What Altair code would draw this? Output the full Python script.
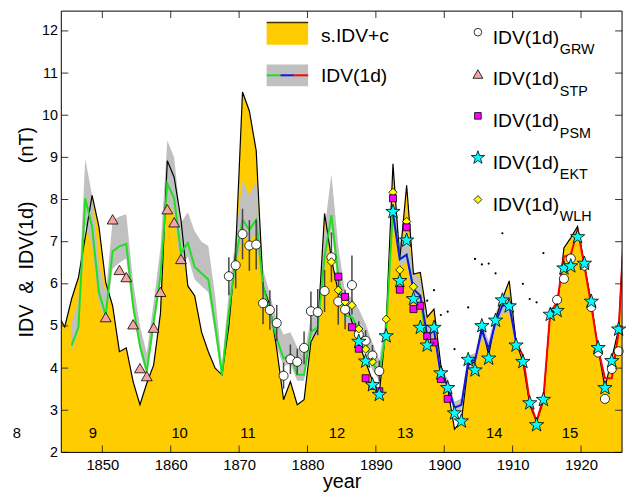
import altair as alt
import pandas as pd

FONT = "Liberation Sans"
W, H = 568, 447
X_DOM = [1844, 1926]
Y_DOM = [2, 12.47]

# ---------------- data ----------------
SIDV_START = 1843.5
SIDV = [5.26, 4.98, 5.64, 6.15, 7.10, 8.10, 7.36, 6.03, 5.48, 4.39,
        4.48, 3.68, 3.13, 3.64, 4.07, 5.30, 8.92, 8.53, 7.52, 5.95,
        5.72, 4.86, 4.39, 4.00, 3.84, 5.00, 6.80, 10.55, 10.10, 9.16,
        5.95, 5.48, 4.46, 3.25, 3.68, 3.13, 3.25, 4.62, 4.93, 7.67,
        6.60, 5.80, 5.60, 5.10, 4.60, 4.15, 3.70, 3.40, 5.01, 8.85,
        6.58, 8.34, 6.23, 6.27, 5.21, 5.40, 4.07, 3.53, 2.55, 2.74,
        4.07, 4.15, 5.01, 4.31, 5.17, 5.64, 6.07, 4.62, 4.15, 3.13,
        2.72, 3.21, 5.33, 5.40, 6.85, 7.09, 7.36, 6.46, 5.56, 4.46,
        3.53, 4.23, 4.93, 8.00]

GREEN_START = 1845.5
GREEN = [4.54, 4.97, 8.03, 7.36, 5.80, 5.25, 6.77, 6.89, 6.95, 5.48,
         4.54, 3.92, 5.09, 6.19, 8.38, 8.03, 6.73, 6.97, 6.40, 6.25,
         6.10, 5.00, 3.84, 5.33, 6.58, 7.52, 7.28, 7.52, 5.95, 5.33,
         4.70, 4.23, 4.31, 3.84, 3.84, 4.86, 4.97, 6.65, 7.63, 6.19,
         5.25, 5.21, 4.93, 4.62, 4.15, 3.84, 4.89, 7.75, 6.58, 6.69,
         5.87, 5.72, 4.46]

BLUE_START = 1892.5
BLUE = [7.67, 6.58, 6.69, 5.87, 5.72, 4.78, 4.89, 3.84, 3.60, 3.06,
        3.13, 4.15, 4.19, 4.89, 4.46, 5.09, 5.48, 5.50, 4.62]

RED_START = 1910.5
RED = [4.62, 4.30, 3.21, 2.74, 3.29, 5.33, 5.56, 6.65, 6.69, 7.28,
       6.42, 5.48, 4.46, 3.76, 3.76, 4.86, 8.00]

BAND_START = 1845.5
BAND_LO = [4.40, 4.85, 7.40, 6.90, 5.55, 5.10, 6.35, 6.50, 6.60, 5.30,
           4.40, 3.80, 4.90, 6.00, 7.95, 7.65, 6.35, 6.65, 6.10, 5.95,
           5.80, 4.80, 3.70, 5.10, 6.30, 7.20, 7.00, 7.20, 5.70, 5.10,
           4.50, 4.05, 4.10, 3.70, 3.70, 4.70, 4.80, 6.40, 7.30, 5.95,
           5.05, 5.00, 4.75, 4.45, 3.95, 3.70, 4.75, 7.50, 6.40, 6.50,
           5.65, 5.50, 4.60, 4.75, 3.70, 3.45, 2.92, 3.00, 4.00, 4.05,
           4.72, 4.30, 4.90, 5.28, 5.30, 4.45]
BAND_HI = [5.05, 5.60, 8.96, 8.10, 6.50, 5.75, 7.50, 7.60, 7.65, 6.05,
           5.00, 4.35, 5.55, 6.85, 9.40, 9.00, 7.45, 7.70, 7.25, 7.00,
           6.90, 5.70, 4.10, 5.80, 7.10, 8.45, 8.10, 8.45, 6.35, 5.75,
           5.15, 4.80, 4.85, 4.50, 4.30, 5.20, 5.40, 7.30, 8.60, 6.90,
           5.80, 5.65, 5.40, 5.05, 4.60, 4.20, 5.25, 8.10, 7.00, 7.25,
           6.30, 6.10, 5.00, 5.05, 4.00, 3.75, 3.20, 3.28, 4.30, 4.35,
           5.08, 4.65, 5.30, 5.72, 5.75, 4.80]

DOT_YEARS = [1897.5, 1898.5, 1899.5, 1900.5, 1901.5, 1903.5, 1904.5, 1905.5,
             1906.5, 1907.5, 1908.5, 1911.5, 1912.5, 1913.5, 1914.5]
DOT_VALUES = [5.60, 5.85, 5.26, 5.34, 4.45, 5.44, 6.59, 6.46,
              6.48, 6.25, 7.20, 6.00, 5.64, 5.56, 6.73]

GRW_YEARS = [1868.5, 1869.5, 1870.5, 1871.5, 1872.5, 1873.5, 1874.5, 1875.5,
             1876.5, 1877.5, 1878.5, 1879.5, 1880.5, 1881.5, 1882.5, 1883.5,
             1884.5, 1885.5, 1886.5, 1887.5, 1888.5, 1889.5, 1890.5,
             1916.5, 1917.5, 1918.5, 1920.5, 1921.5, 1922.5, 1923.5, 1924.5, 1925.5]
GRW_VALUES = [6.18, 6.44, 7.18, 6.91, 6.93, 5.54, 5.38, 5.07,
              3.82, 4.21, 4.15, 4.48, 5.35, 5.33, 5.83, 6.63,
              5.58, 5.39, 5.97, 4.80, 4.65, 4.30, 3.93,
              5.62, 6.12, 6.60, 6.43, 5.45, 4.37, 3.27, 3.98, 4.40]
GRW_ERR = [0.45, 0.55, 0.60, 0.60, 0.59, 0.50, 0.47, 0.43,
           0.31, 0.35, 0.31, 0.39, 0.47, 0.55, 0.50, 0.59,
           0.55, 0.47, 0.70, 0.31, 0.25, 0.25, 0.25,
           0, 0, 0, 0, 0, 0, 0, 0, 0]

STP_YEARS = [1850.5, 1851.5, 1852.5, 1853.5, 1854.5, 1855.5, 1856.5, 1857.5,
             1858.5, 1859.5, 1860.5, 1861.5]
STP_VALUES = [5.21, 7.53, 6.33, 6.16, 5.04, 4.00, 3.81, 4.96, 5.81, 7.77, 7.46, 6.59]

PSM_YEARS = [1884.5, 1885.5, 1886.5, 1887.5, 1888.5, 1889.5, 1890.5, 1892.5,
             1893.5, 1894.5, 1895.5, 1896.5, 1897.5, 1898.5, 1899.5, 1900.5]
PSM_VALUES = [6.17, 5.69, 4.97, 4.46, 3.76, 3.58, 3.45, 8.03,
              5.86, 7.34, 5.40, 5.48, 4.76, 4.61, 3.74, 3.27]

EKT_YEARS = [1887.5, 1888.5, 1889.5, 1890.5, 1891.5, 1892.5, 1893.5, 1894.5,
             1895.5, 1896.5, 1897.5, 1898.5, 1899.5, 1900.5, 1901.5, 1902.5,
             1903.5, 1904.5, 1905.5, 1906.5, 1907.5, 1908.5, 1909.5, 1910.5,
             1911.5, 1912.5, 1913.5, 1914.5, 1915.5, 1916.5, 1917.5, 1918.5,
             1919.5, 1920.5, 1921.5, 1922.5, 1923.5, 1924.5, 1925.5]
EKT_VALUES = [4.63, 4.16, 3.60, 3.37, 4.76, 7.71, 6.07, 7.03,
              5.64, 4.96, 4.54, 4.96, 3.88, 3.53, 2.93, 2.74,
              4.20, 3.95, 5.00, 4.23, 5.13, 5.61, 5.47, 4.54,
              4.15, 3.17, 2.65, 3.25, 5.27, 5.36, 6.37, 6.42,
              7.11, 6.48, 5.58, 4.48, 3.53, 4.17, 4.92]

WLH_YEARS = [1883.5, 1884.5, 1885.5, 1886.5, 1887.5, 1888.5, 1889.5, 1891.5,
             1892.5, 1893.5, 1894.5, 1895.5]
WLH_VALUES = [6.52, 5.85, 5.57, 5.49, 4.93, 4.45, 4.15, 5.16,
              8.17, 6.33, 7.48, 5.93]

CYCLE_LABELS = ["8", "9", "10", "11", "12", "13", "14", "15"]
CYCLE_YEARS = [1837.5, 1848.6, 1861.3, 1871.3, 1884.3, 1894.3, 1907.3, 1918.4]
CYCLE_LEVEL = 2.47

X_TICKS = [1850, 1860, 1870, 1880, 1890, 1900, 1910, 1920]
Y_TICKS = [2, 3, 4, 5, 6, 7, 8, 9, 10, 11, 12]

LEGEND_LEFT = ["s.IDV+c", "IDV(1d)"]
LEGEND_MAIN = "IDV(1d)"
LEGEND_SUBS = ["GRW", "STP", "PSM", "EKT", "WLH"]

Y_TITLE = "IDV\u00a0\u00a0&\u00a0\u00a0IDV(1d)" + "\u00a0" * 7 + "(nT)"

STAR = ("M0,-1L0.235,-0.324L0.951,-0.309L0.380,0.124L0.588,0.809L0,0.4"
        "L-0.588,0.809L-0.380,0.124L-0.951,-0.309L-0.235,-0.324Z")


def series(start, vals):
    return pd.DataFrame({"year": [start + i for i in range(len(vals))], "v": vals})


xs = alt.Scale(domain=X_DOM, nice=False, zero=False)
ys = alt.Scale(domain=Y_DOM, nice=False, zero=False)

AX_X = alt.Axis(values=X_TICKS, format="d", ticks=False, tickSize=0, domain=False,
                grid=False, labelFontSize=15, labelPadding=5, labelColor="black",
                labelFont=FONT, labelFlush=False, title="year", titleFontSize=20,
                titleFontWeight="normal", titleFont=FONT, titleColor="black",
                titlePadding=0)
AX_Y = alt.Axis(values=Y_TICKS, format="d", ticks=False, tickSize=0, domain=False,
                grid=False, labelFontSize=14.5, labelPadding=4, labelColor="black",
                labelFont=FONT, title=Y_TITLE, titleFontSize=20,
                titleFontWeight="normal", titleFont=FONT, titleColor="black",
                titlePadding=5)


def X(f="year"):
    return alt.X(f"{f}:Q", scale=xs, axis=AX_X, title="year")


def Y(f="v"):
    return alt.Y(f"{f}:Q", scale=ys, axis=AX_Y, title=Y_TITLE)


area = alt.Chart(series(SIDV_START, SIDV)).mark_area(color="#FFCC00", clip=True).encode(
    x=X(), y=Y(), y2=alt.datum(2))

band_df = pd.DataFrame({"year": [BAND_START + i for i in range(len(BAND_LO))],
                        "lo": BAND_LO, "hi": BAND_HI})
band = alt.Chart(band_df).mark_area(color="#C0C0C0", clip=True).encode(
    x=X(), y=Y("lo"), y2="hi:Q")

black = alt.Chart(series(SIDV_START, SIDV)).mark_line(color="black", strokeWidth=1.2, clip=True).encode(x=X(), y=Y())
green = alt.Chart(series(GREEN_START, GREEN)).mark_line(color="#22DD22", strokeWidth=2, clip=True).encode(x=X(), y=Y())
blue = alt.Chart(series(BLUE_START, BLUE)).mark_line(color="#1515E0", strokeWidth=2, clip=True).encode(x=X(), y=Y())
red = alt.Chart(series(RED_START, RED)).mark_line(color="#FF0000", strokeWidth=2, clip=True).encode(x=X(), y=Y())

dots = alt.Chart(pd.DataFrame({"year": DOT_YEARS, "v": DOT_VALUES})).mark_circle(
    color="black", size=5, opacity=1).encode(x=X(), y=Y())

grw_df = pd.DataFrame({"year": GRW_YEARS, "v": GRW_VALUES, "e": GRW_ERR})
grw_df["lo"] = grw_df["v"] - grw_df["e"]
grw_df["hi"] = grw_df["v"] + grw_df["e"]
errbars = alt.Chart(grw_df[grw_df["e"] > 0]).mark_rule(color="#444444", strokeWidth=1.5).encode(
    x=X(), y=Y("lo"), y2="hi:Q")


def markers(years, vals, shape, fill, size):
    return alt.Chart(pd.DataFrame({"year": years, "v": vals})).mark_point(
        shape=shape, filled=True, fill=fill, stroke="black", strokeWidth=0.8,
        size=size, opacity=1, fillOpacity=1).encode(x=X(), y=Y())


grw = markers(GRW_YEARS, GRW_VALUES, "circle", "white", 85)
wlh = markers(WLH_YEARS, WLH_VALUES, "diamond", "#FFFF00", 70)
psm = markers(PSM_YEARS, PSM_VALUES, "square", "#FF00FF", 50)
ekt = markers(EKT_YEARS, EKT_VALUES, STAR, "#00FFFF", 230)
stp = markers(STP_YEARS, STP_VALUES, "triangle-up", "#F4A4A4", 120)

# inward ticks
xt = pd.DataFrame({"t": X_TICKS})
yt = pd.DataFrame({"t": Y_TICKS})
tick_style = dict(color="#333333", strokeWidth=1)
ticks = [
    alt.Chart(xt).mark_rule(**tick_style).encode(x=X("t"), y=alt.value(H), y2=alt.value(H - 7)),
    alt.Chart(xt).mark_rule(**tick_style).encode(x=X("t"), y=alt.value(0), y2=alt.value(7)),
    alt.Chart(yt).mark_rule(**tick_style).encode(y=Y("t"), x=alt.value(0), x2=alt.value(7)),
    alt.Chart(yt).mark_rule(**tick_style).encode(y=Y("t"), x=alt.value(W), x2=alt.value(W - 7)),
]

cycles = alt.Chart(pd.DataFrame({"year": CYCLE_YEARS, "lab": CYCLE_LABELS})).mark_text(
    fontSize=15, font=FONT, color="black", clip=False).encode(
    x=X(), y=alt.datum(CYCLE_LEVEL), text="lab:N")

one = pd.DataFrame({"a": [0]})

# frame
frame = alt.Chart(one).mark_rect(fillOpacity=0, stroke="black", strokeWidth=1).encode(
    x=alt.value(0), x2=alt.value(W), y=alt.value(0), y2=alt.value(H))

# legend (left column)
legend = []
legend.append(alt.Chart(one).mark_rect(color="#FFCC00").encode(
    x=alt.value(208), x2=alt.value(250), y=alt.value(11), y2=alt.value(34)))
legend.append(alt.Chart(one).mark_rule(color="#3d3300", strokeWidth=1.5).encode(
    x=alt.value(208), x2=alt.value(250), y=alt.value(11.5)))
legend.append(alt.Chart(one).mark_rect(color="#C0C0C0").encode(
    x=alt.value(208), x2=alt.value(250), y=alt.value(54), y2=alt.value(76)))
for (xa, xb), col in zip([(208, 222), (222, 236), (236, 250)], ["#22DD22", "#1515E0", "#FF0000"]):
    legend.append(alt.Chart(one).mark_rule(color=col, strokeWidth=2).encode(
        x=alt.value(xa), x2=alt.value(xb), y=alt.value(65)))
for lab, yb in zip(LEGEND_LEFT, [31, 72]):
    legend.append(alt.Chart(pd.DataFrame({"lab": [lab]})).mark_text(
        align="left", baseline="alphabetic", fontSize=19.5, font=FONT, color="black").encode(
        x=alt.value(263), y=alt.value(yb), text="lab:N"))

# legend (right column)
shapes = [("circle", "white", 60), ("triangle-up", "#F4A4A4", 100), ("square", "#FF00FF", 45),
          (STAR, "#00FFFF", 200), ("diamond", "#FFFF00", 64)]
for i, (sub, (shp, fill, sz)) in enumerate(zip(LEGEND_SUBS, shapes)):
    my = 21.3 + 42.4 * i
    legend.append(alt.Chart(one).mark_point(
        shape=shp, filled=True, fill=fill, stroke="black", strokeWidth=0.8, size=sz,
        opacity=1).encode(x=alt.value(422), y=alt.value(my)))
    legend.append(alt.Chart(pd.DataFrame({"lab": [LEGEND_MAIN]})).mark_text(
        align="left", baseline="alphabetic", fontSize=19.5, font=FONT, color="black").encode(
        x=alt.value(437), y=alt.value(my + 11.5), text="lab:N"))
    legend.append(alt.Chart(pd.DataFrame({"lab": [sub]})).mark_text(
        align="left", baseline="alphabetic", fontSize=14.5, font=FONT, color="black").encode(
        x=alt.value(505), y=alt.value(my + 22), text="lab:N"))

chart = alt.layer(
    area, band, black, green, blue, red, dots, errbars,
    grw, wlh, psm, ekt, stp, *ticks, cycles, frame, *legend
).properties(
    width=W, height=H,
    padding={"left": 54, "top": 0, "right": 4, "bottom": 42},
    autosize=alt.AutoSizeParams(type="none"),
).configure(font=FONT).configure_view(stroke=None)

chart.save("out.html", embed_options={"renderer": "svg", "actions": False})
